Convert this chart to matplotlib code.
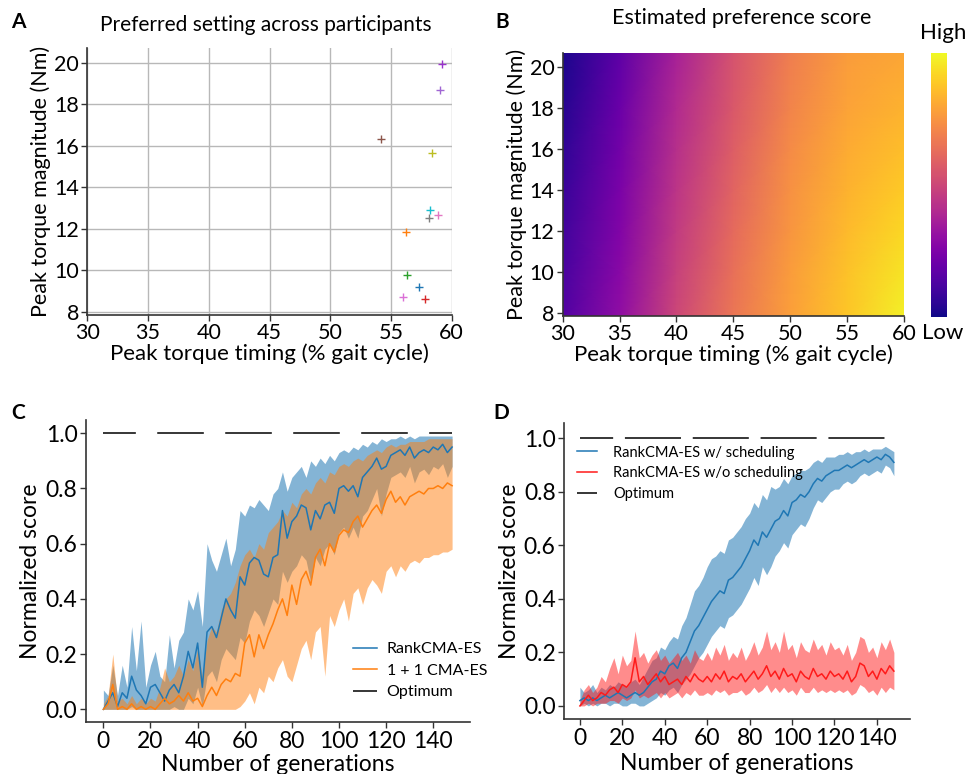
import numpy as np
import matplotlib
matplotlib.use("Agg")
from matplotlib import pyplot as plt

plt.rcParams['font.family'] = ['Lato', 'DejaVu Sans']

# ---- panel A: preferred setting of each participant ----
pref_timing = [59.2, 59.0, 54.2, 58.4, 58.2, 58.9, 58.1, 56.2, 56.3, 57.3, 56.0, 57.8]
pref_torque = [19.95, 18.7, 16.3, 15.65, 12.9, 12.67, 12.5, 11.83, 9.77, 9.21, 8.69, 8.62]
pref_colors = ['#9932cc', '#a066d3', '#8c564b', '#bcbd22', '#17becf', '#e377c2',
               '#7f7f7f', '#ff7f0e', '#2ca02c', '#1f77b4', '#da70d6', '#d62728']

# ---- panel B: estimated preference score (rows = magnitude, cols = timing) ----
grid_timing = [30, 35, 40, 45, 50, 55, 60]
grid_torque = [7.84, 10, 12, 14, 16, 18, 20.7]
score = [
    [0.14, 0.30, 0.50, 0.66, 0.78, 0.88, 0.98],
    [0.12, 0.28, 0.48, 0.64, 0.77, 0.87, 0.95],
    [0.10, 0.26, 0.46, 0.62, 0.75, 0.85, 0.92],
    [0.08, 0.24, 0.44, 0.60, 0.74, 0.83, 0.89],
    [0.06, 0.22, 0.42, 0.58, 0.72, 0.81, 0.86],
    [0.04, 0.20, 0.40, 0.56, 0.70, 0.79, 0.83],
    [0.02, 0.17, 0.37, 0.54, 0.68, 0.77, 0.80],
]

# ---- panels C, D: generations (every second one) ----
gens = np.arange(0, 150, 2)

rank_mean = [0.00, 0.03, 0.06, 0.01, 0.06, 0.04, 0.12, 0.07, 0.05, 0.02,
             0.08, 0.09, 0.06, 0.03, 0.07, 0.09, 0.06, 0.12, 0.21, 0.15,
             0.24, 0.08, 0.28, 0.30, 0.26, 0.33, 0.40, 0.36, 0.33, 0.48,
             0.45, 0.53, 0.55, 0.54, 0.49, 0.48, 0.55, 0.56, 0.72, 0.62,
             0.68, 0.70, 0.74, 0.73, 0.65, 0.72, 0.69, 0.74, 0.75, 0.71,
             0.80, 0.81, 0.79, 0.81, 0.77, 0.84, 0.86, 0.88, 0.91, 0.87,
             0.88, 0.92, 0.93, 0.94, 0.92, 0.95, 0.91, 0.93, 0.94, 0.93,
             0.95, 0.94, 0.96, 0.93, 0.95]
rank_hi = [0.07, 0.05, 0.16, 0.05, 0.16, 0.08, 0.30, 0.14, 0.32, 0.08,
           0.16, 0.21, 0.12, 0.10, 0.27, 0.15, 0.25, 0.28, 0.40, 0.36,
           0.43, 0.30, 0.60, 0.54, 0.50, 0.56, 0.62, 0.52, 0.58, 0.72,
           0.70, 0.74, 0.73, 0.76, 0.74, 0.72, 0.78, 0.80, 0.86, 0.79,
           0.84, 0.86, 0.88, 0.84, 0.90, 0.88, 0.91, 0.89, 0.92, 0.90,
           0.93, 0.94, 0.93, 0.95, 0.94, 0.96, 0.95, 0.97, 0.96, 0.98,
           0.97, 0.98, 0.98, 0.99, 0.98, 0.99, 0.98, 0.99, 0.99, 0.99,
           0.99, 0.99, 0.99, 0.99, 0.99]
rank_lo = [0.00, 0.00, 0.00, 0.00, 0.00, 0.00, 0.01, 0.00, 0.00, 0.00,
           0.00, 0.00, 0.00, 0.00, 0.00, 0.01, 0.00, 0.00, 0.04, 0.02,
           0.08, 0.01, 0.12, 0.14, 0.10, 0.18, 0.22, 0.20, 0.18, 0.26,
           0.24, 0.32, 0.36, 0.34, 0.30, 0.35, 0.40, 0.38, 0.50, 0.46,
           0.50, 0.52, 0.56, 0.54, 0.46, 0.55, 0.52, 0.58, 0.60, 0.56,
           0.64, 0.66, 0.62, 0.66, 0.62, 0.70, 0.72, 0.76, 0.80, 0.70,
           0.78, 0.84, 0.85, 0.86, 0.84, 0.88, 0.82, 0.86, 0.87, 0.85,
           0.88, 0.87, 0.89, 0.84, 0.88]

oneone_mean = [0.00, 0.02, 0.09, 0.00, 0.01, 0.00, 0.02, 0.00, 0.01, 0.00,
               0.01, 0.00, 0.02, 0.04, 0.02, 0.03, 0.05, 0.03, 0.06, 0.03,
               0.04, 0.01, 0.05, 0.08, 0.05, 0.09, 0.11, 0.10, 0.13, 0.12,
               0.24, 0.27, 0.19, 0.27, 0.22, 0.27, 0.31, 0.36, 0.40, 0.34,
               0.45, 0.38, 0.47, 0.50, 0.45, 0.55, 0.58, 0.52, 0.60, 0.57,
               0.63, 0.65, 0.64, 0.68, 0.70, 0.66, 0.69, 0.72, 0.74, 0.71,
               0.76, 0.79, 0.75, 0.77, 0.74, 0.77, 0.78, 0.79, 0.78, 0.80,
               0.80, 0.81, 0.80, 0.82, 0.81]
oneone_hi = [0.02, 0.05, 0.20, 0.03, 0.04, 0.02, 0.05, 0.02, 0.04, 0.02,
             0.04, 0.03, 0.08, 0.15, 0.10, 0.12, 0.16, 0.12, 0.18, 0.14,
             0.22, 0.12, 0.25, 0.30, 0.28, 0.36, 0.40, 0.42, 0.46, 0.52,
             0.56, 0.58, 0.55, 0.60, 0.58, 0.64, 0.66, 0.68, 0.72, 0.70,
             0.75, 0.73, 0.78, 0.80, 0.78, 0.82, 0.84, 0.82, 0.86, 0.85,
             0.88, 0.89, 0.88, 0.90, 0.91, 0.90, 0.92, 0.93, 0.94, 0.93,
             0.95, 0.96, 0.95, 0.96, 0.96, 0.97, 0.97, 0.97, 0.97, 0.98,
             0.98, 0.98, 0.98, 0.98, 0.98]
oneone_lo = [0.00, 0.00, 0.00, 0.00, 0.00, 0.00, 0.00, 0.00, 0.00, 0.00,
             0.00, 0.00, 0.00, 0.00, 0.00, 0.00, 0.00, 0.00, 0.00, 0.00,
             0.00, 0.00, 0.00, 0.00, 0.00, 0.00, 0.00, 0.00, 0.00, 0.01,
             0.03, 0.06, 0.02, 0.08, 0.06, 0.12, 0.10, 0.15, 0.18, 0.12,
             0.10, 0.16, 0.22, 0.25, 0.18, 0.28, 0.30, 0.12, 0.34, 0.30,
             0.36, 0.40, 0.32, 0.42, 0.44, 0.38, 0.44, 0.47, 0.45, 0.42,
             0.50, 0.52, 0.48, 0.52, 0.50, 0.53, 0.54, 0.53, 0.55, 0.55,
             0.56, 0.56, 0.57, 0.57, 0.58]

sched_mean = [0.02, 0.03, 0.02, 0.03, 0.02, 0.03, 0.04, 0.03, 0.04, 0.05,
              0.04, 0.03, 0.04, 0.05, 0.04, 0.05, 0.07, 0.09, 0.10, 0.13,
              0.12, 0.15, 0.16, 0.14, 0.18, 0.20, 0.24, 0.28, 0.30, 0.33,
              0.36, 0.39, 0.41, 0.43, 0.42, 0.47, 0.48, 0.50, 0.52, 0.55,
              0.58, 0.62, 0.60, 0.65, 0.63, 0.66, 0.69, 0.70, 0.73, 0.71,
              0.76, 0.77, 0.79, 0.78, 0.80, 0.83, 0.85, 0.84, 0.86, 0.87,
              0.88, 0.88, 0.89, 0.90, 0.89, 0.90, 0.91, 0.92, 0.91, 0.92,
              0.93, 0.92, 0.94, 0.93, 0.91]
sched_hi = [0.07, 0.05, 0.06, 0.08, 0.05, 0.07, 0.06, 0.08, 0.07, 0.09,
            0.08, 0.07, 0.09, 0.10, 0.08, 0.11, 0.14, 0.17, 0.18, 0.22,
            0.21, 0.24, 0.26, 0.25, 0.30, 0.33, 0.38, 0.43, 0.45, 0.48,
            0.52, 0.55, 0.56, 0.58, 0.57, 0.62, 0.63, 0.65, 0.67, 0.70,
            0.72, 0.76, 0.74, 0.79, 0.77, 0.82, 0.81, 0.82, 0.85, 0.83,
            0.86, 0.87, 0.88, 0.88, 0.89, 0.91, 0.92, 0.91, 0.93, 0.93,
            0.93, 0.94, 0.94, 0.95, 0.94, 0.95, 0.95, 0.96, 0.95, 0.96,
            0.96, 0.96, 0.97, 0.96, 0.95]
sched_lo = [0.00, 0.01, 0.00, 0.01, 0.00, 0.01, 0.01, 0.00, 0.01, 0.01,
            0.00, 0.00, 0.01, 0.01, 0.00, 0.00, 0.01, 0.02, 0.03, 0.05,
            0.04, 0.06, 0.07, 0.05, 0.08, 0.10, 0.12, 0.15, 0.18, 0.20,
            0.23, 0.26, 0.28, 0.30, 0.29, 0.33, 0.34, 0.36, 0.38, 0.41,
            0.44, 0.48, 0.45, 0.52, 0.49, 0.52, 0.56, 0.58, 0.61, 0.59,
            0.64, 0.66, 0.68, 0.67, 0.70, 0.74, 0.77, 0.76, 0.78, 0.80,
            0.81, 0.81, 0.83, 0.84, 0.83, 0.84, 0.86, 0.87, 0.86, 0.87,
            0.88, 0.87, 0.90, 0.89, 0.86]

nosched_mean = [0.00, 0.02, 0.04, 0.02, 0.03, 0.05, 0.04, 0.06, 0.07, 0.05,
                0.08, 0.07, 0.09, 0.18, 0.09, 0.11, 0.08, 0.10, 0.12, 0.09,
                0.11, 0.08, 0.09, 0.10, 0.08, 0.11, 0.09, 0.12, 0.10, 0.09,
                0.11, 0.09, 0.12, 0.10, 0.13, 0.09, 0.11, 0.10, 0.12, 0.09,
                0.11, 0.13, 0.10, 0.12, 0.15, 0.11, 0.13, 0.10, 0.14, 0.11,
                0.12, 0.09, 0.13, 0.11, 0.10, 0.14, 0.11, 0.12, 0.10, 0.13,
                0.11, 0.12, 0.10, 0.13, 0.09, 0.11, 0.16, 0.15, 0.11, 0.13,
                0.10, 0.14, 0.12, 0.15, 0.13]
nosched_hi = [0.02, 0.06, 0.08, 0.05, 0.07, 0.11, 0.09, 0.14, 0.18, 0.12,
              0.19, 0.15, 0.17, 0.28, 0.18, 0.20, 0.16, 0.19, 0.21, 0.17,
              0.19, 0.16, 0.18, 0.20, 0.17, 0.19, 0.16, 0.21, 0.18, 0.17,
              0.20, 0.17, 0.22, 0.19, 0.23, 0.17, 0.20, 0.18, 0.22, 0.17,
              0.20, 0.24, 0.19, 0.22, 0.28, 0.21, 0.24, 0.20, 0.28, 0.21,
              0.23, 0.18, 0.24, 0.21, 0.20, 0.25, 0.21, 0.23, 0.19, 0.24,
              0.21, 0.22, 0.19, 0.23, 0.17, 0.20, 0.26, 0.25, 0.20, 0.22,
              0.18, 0.24, 0.21, 0.25, 0.20]
nosched_lo = [0.00, 0.00, 0.01, 0.00, 0.01, 0.01, 0.01, 0.02, 0.02, 0.01,
              0.03, 0.02, 0.03, 0.06, 0.03, 0.04, 0.03, 0.04, 0.05, 0.03,
              0.05, 0.03, 0.04, 0.05, 0.03, 0.05, 0.04, 0.06, 0.04, 0.04,
              0.05, 0.04, 0.06, 0.05, 0.06, 0.04, 0.05, 0.05, 0.06, 0.04,
              0.05, 0.07, 0.05, 0.06, 0.08, 0.05, 0.07, 0.05, 0.07, 0.05,
              0.06, 0.04, 0.07, 0.05, 0.05, 0.07, 0.05, 0.06, 0.05, 0.06,
              0.05, 0.06, 0.05, 0.06, 0.04, 0.05, 0.08, 0.07, 0.05, 0.06,
              0.04, 0.07, 0.05, 0.07, 0.06]

optimum = 1.0
opt_span = [0, 148]

BLUE = '#1f77b4'
ORANGE = '#ff7f0e'
RED = '#ff1a1a'
SPINE = '#333333'
W, H = 967, 774


def rect(l, t, r, b):
    return [l / W, 1 - b / H, (r - l) / W, (b - t) / H]


def style(ax, size):
    for s in ['top', 'right']:
        ax.spines[s].set_visible(False)
    for s in ['left', 'bottom']:
        ax.spines[s].set_color(SPINE)
        ax.spines[s].set_linewidth(1.2)
    ax.tick_params(direction='out', length=4, width=1, color=SPINE,
                   labelsize=size, pad=2)


fig = plt.figure(figsize=(9.67, 7.74), dpi=100)

# ---------------- A ----------------
axA = fig.add_axes(rect(87.3, 48, 451.7, 315))
for t, m, c in zip(pref_timing, pref_torque, pref_colors):
    axA.plot(t, m, '+', color=c, ms=6, mew=1.0)
axA.set_xlim(30, 60)
axA.set_ylim(7.84, 20.7)
axA.set_xticks(range(30, 61, 5))
axA.set_yticks(range(8, 21, 2))
axA.grid(True, color='#b8b8b8', lw=1)
axA.set_axisbelow(True)
style(axA, 15.5)
axA.set_xlabel('Peak torque timing (% gait cycle)', fontsize=16, labelpad=0)
axA.set_ylabel('Peak torque magnitude (Nm)', fontsize=15.5, labelpad=2)
fig.text(266 / W, 1 - 25 / H, 'Preferred setting across participants',
         ha='center', va='center', fontsize=15)
fig.text(18 / W, 1 - 22 / H, 'A', ha='center', va='center',
         fontsize=15, fontweight='bold')

# ---------------- B ----------------
axB = fig.add_axes(rect(562.7, 52.7, 904, 316))
mesh = axB.pcolormesh(grid_timing, grid_torque, np.array(score),
                      cmap='plasma', vmin=0, vmax=1, shading='gouraud')
axB.set_xlim(30, 60)
axB.set_ylim(7.84, 20.7)
axB.set_xticks(range(30, 61, 5))
axB.set_yticks(range(8, 21, 2))
style(axB, 15.5)
axB.set_xlabel('Peak torque timing (% gait cycle)', fontsize=16, labelpad=0)
axB.set_ylabel('Peak torque magnitude (Nm)', fontsize=15.5, labelpad=2)
fig.text(741.7 / W, 1 - 18.3 / H, 'Estimated preference score',
         ha='center', va='center', fontsize=15.5)
fig.text(501.7 / W, 1 - 21.7 / H, 'B', ha='center', va='center',
         fontsize=15, fontweight='bold')

cax = fig.add_axes(rect(930.7, 52.7, 947.3, 317))
cb = fig.colorbar(mesh, cax=cax)
cb.set_ticks([])
cb.outline.set_visible(False)
fig.text(943 / W, 1 - 33 / H, 'High', ha='center', va='center', fontsize=16)
fig.text(943 / W, 1 - 333 / H, 'Low', ha='center', va='center', fontsize=16)


# ---------------- C / D ----------------
def opt_line(ax, dash):
    ax.plot(opt_span, [optimum, optimum], color='black', lw=1.1,
            ls=dash, label='Optimum')


axC = fig.add_axes(rect(85.7, 420, 470, 722.3))
axC.fill_between(gens, rank_lo, rank_hi, color=BLUE, alpha=0.55, lw=0)
axC.fill_between(gens, oneone_lo, oneone_hi, color=ORANGE, alpha=0.5, lw=0)
axC.plot(gens, rank_mean, color=BLUE, lw=1.1, label='RankCMA-ES')
axC.plot(gens, oneone_mean, color=ORANGE, lw=1.1, label='1 + 1 CMA-ES')
opt_line(axC, (9, (30.5, 14)))
axC.set_xlim(-7.5, 155.6)
axC.set_ylim(-0.047, 1.048)
axC.set_xticks(range(0, 141, 20))
axC.set_yticks(np.arange(0, 1.01, 0.2))
axC.yaxis.set_major_formatter(lambda v, p: f'{v:.1f}')
style(axC, 16.5)
axC.set_xlabel('Number of generations', fontsize=16.5, labelpad=2)
axC.set_ylabel('Normalized score', fontsize=16.5, labelpad=3)
axC.legend(loc='upper left', bbox_to_anchor=(0.6956, 0.265), frameon=False,
           fontsize=11.5, borderpad=0, borderaxespad=0, handlelength=1.5,
           handletextpad=0.6, labelspacing=0.45)
fig.text(18.3 / W, 1 - 413.3 / H, 'C', ha='center', va='center',
         fontsize=15, fontweight='bold')

axD = fig.add_axes(rect(564, 423.3, 910, 719.3))
axD.fill_between(gens, sched_lo, sched_hi, color=BLUE, alpha=0.55, lw=0)
axD.fill_between(gens, nosched_lo, nosched_hi, color=RED, alpha=0.5, lw=0)
axD.plot(gens, sched_mean, color=BLUE, lw=1.1, label='RankCMA-ES w/ scheduling')
axD.plot(gens, nosched_mean, color=RED, lw=1.1, label='RankCMA-ES w/o scheduling')
opt_line(axD, (15, (36.7, 7.7)))
axD.set_xlim(-7.5, 155.6)
axD.set_ylim(-0.05, 1.056)
axD.set_xticks(range(0, 141, 20))
axD.set_yticks(np.arange(0, 1.01, 0.2))
axD.yaxis.set_major_formatter(lambda v, p: f'{v:.1f}')
style(axD, 16.5)
axD.set_xlabel('Number of generations', fontsize=16.5, labelpad=3)
axD.set_ylabel('Normalized score', fontsize=16.5, labelpad=3)
axD.legend(loc='upper left', bbox_to_anchor=(0.0376, 0.925), frameon=False,
           fontsize=10.5, borderpad=0, borderaxespad=0, handlelength=1.4,
           handletextpad=1.1, labelspacing=0.45)
fig.text(501.7 / W, 1 - 413.3 / H, 'D', ha='center', va='center',
         fontsize=15, fontweight='bold')

fig.savefig('out.png', dpi=100)
